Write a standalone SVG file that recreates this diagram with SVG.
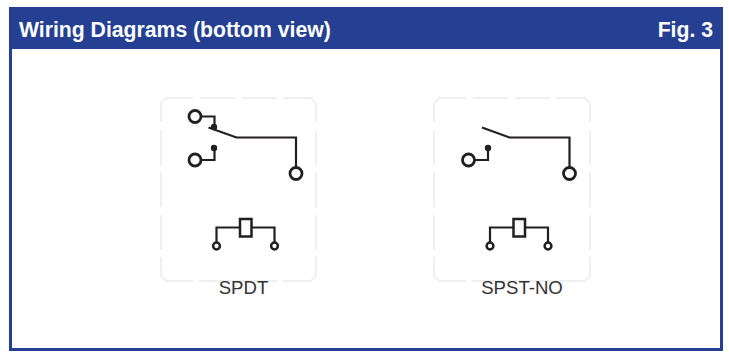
<svg xmlns="http://www.w3.org/2000/svg" width="729" height="352" viewBox="0 0 729 352">
<style>
.frame{fill:none;stroke:#efefef;stroke-width:1.8}
.w{fill:none;stroke:#231f20;stroke-width:2.2;stroke-linejoin:miter}
.t{fill:#fff;stroke:#231f20;stroke-width:2.8}
.s{fill:#fff;stroke:#231f20;stroke-width:2.5}
.d{fill:#231f20}
.l{font-family:"Liberation Sans",Arial,sans-serif;font-size:18.6px;fill:#333333;text-anchor:middle}
.h{font-family:"Liberation Sans",Arial,sans-serif;font-size:21.2px;font-weight:700;fill:#fff}
</style>
<rect width="729" height="352" fill="#fff"/>
<g id="panel">
<rect x="10.500" y="8.500" width="711" height="341" fill="#fff" stroke="#253f92" stroke-width="3"/>
<rect x="10" y="8" width="712" height="41" fill="#253f92"/>
<text class="h" x="19" y="36.500">Wiring Diagrams (bottom view)</text>
<text class="h" x="713" y="36.500" text-anchor="end">Fig. 3</text>
</g>
<g id="spdt">
<path class="frame" d="M161 122V103L166 98H193M200 98H235M242 98H277M283 98H311L316 103V122M316 130V165M316 172V207M316 215V250M316 257V276L311 281H283M277 281H199M193 281H166L161 276V257M161 250V215M161 207V172M161 165V130"/>
<path class="w" d="M201 116.500H214.500V127M208.500 127.500L236.500 137.500H296V168"/>
<path class="w" d="M201 160H214.500V148"/>
<circle class="d" cx="214" cy="127" r="3.200"/>
<circle class="d" cx="214" cy="148" r="3.200"/>
<circle class="t" cx="195" cy="116.500" r="6"/>
<circle class="t" cx="195" cy="160" r="6"/>
<circle class="t" cx="296" cy="173.500" r="6"/>
<path class="w" d="M216.500 245V227.500H274.500V245"/>
<rect class="s" x="240" y="219" width="11.500" height="17.500"/>
<circle class="s" cx="216.500" cy="246" r="3.400"/>
<circle class="s" cx="274.500" cy="246" r="3.400"/>
<text class="l" x="243.500" y="294">SPDT</text>
</g>
<g id="spst-no">
<path class="frame" d="M434 122V103L439 98H466M473 98H508M515 98H550M556 98H585L590 103V122M590 130V165M590 172V207M590 215V250M590 257V276L585 281H472M466 281H439L434 276V257M434 250V215M434 207V172M434 165V130"/>
<path class="w" d="M482 127.500L509.500 137.500H569.500V168"/>
<path class="w" d="M475 160H488V148"/>
<circle class="d" cx="488" cy="148" r="3.200"/>
<circle class="t" cx="468.500" cy="160" r="6"/>
<circle class="t" cx="569.500" cy="173.500" r="6"/>
<path class="w" d="M490 245V227.500H548V245"/>
<rect class="s" x="513.500" y="219" width="11.500" height="17.500"/>
<circle class="s" cx="490" cy="246" r="3.400"/>
<circle class="s" cx="548" cy="246" r="3.400"/>
<text class="l" x="522" y="294">SPST-NO</text>
</g>
</svg>
